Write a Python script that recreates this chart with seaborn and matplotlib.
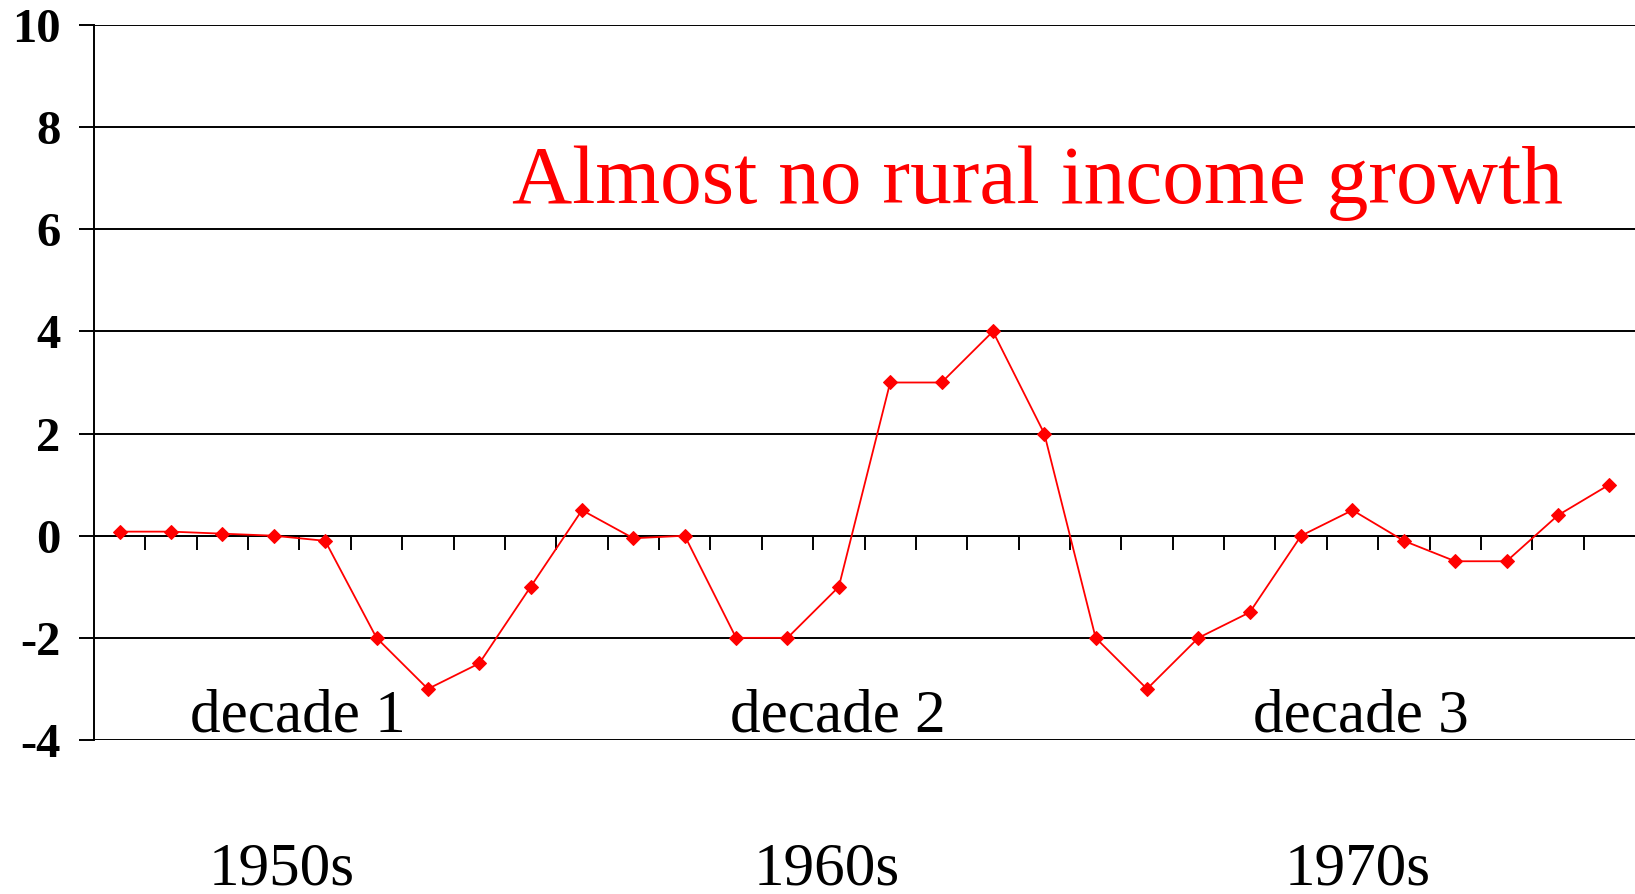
import numpy as np
import pandas as pd
import seaborn as sns
import matplotlib.pyplot as plt

# Rural income growth, one point per year (three decades)
growth = [0.08, 0.08, 0.04, 0.0, -0.1, -2.0, -3.0, -2.5, -1.0, 0.5,
          -0.05, 0.0, -2.0, -2.0, -1.0, 3.0, 3.0, 4.0, 2.0, -2.0,
          -3.0, -2.0, -1.5, 0.0, 0.5, -0.1, -0.5, -0.5, 0.4, 1.0]
years = list(range(len(growth)))
decade_labels = ["decade 1", "decade 2", "decade 3"]
era_labels = ["1950s", "1960s", "1970s"]
y_ticks = [-4, -2, 0, 2, 4, 6, 8, 10]

df = pd.DataFrame({"year": years, "growth": growth})

sns.set_style("white")
plt.rcParams["font.family"] = ["Liberation Serif", "DejaVu Serif"]
plt.rcParams["text.color"] = "black"
plt.rcParams["xtick.color"] = "black"
plt.rcParams["ytick.color"] = "black"

fig = plt.figure(figsize=(16.35, 8.94), dpi=100)
ax = fig.add_axes([94 / 1635, 1 - 740 / 894, 1 - 94 / 1635, (740 - 25) / 894])

sns.lineplot(data=df, x="year", y="growth", ax=ax, color="#ff0000",
             marker="D", markersize=7, markeredgecolor="#ff0000",
             linewidth=1.3, zorder=5)

ax.set_xlim(-0.5, len(growth) - 0.5)
ax.set_ylim(-4, 10)
ax.set_yticks(y_ticks)
ax.set_yticklabels([str(t) for t in y_ticks], fontsize=35, fontweight="bold", color="black")
for t in y_ticks:
    ax.axhline(t, color="black", linewidth=1.4, zorder=1)

# category boundary ticks on the zero line
ax.spines["bottom"].set_position(("data", 0))
ax.spines["bottom"].set_linewidth(1.4)
ax.set_xticks(np.arange(len(growth) - 1) + 0.5)
ax.set_xticklabels([])
ax.tick_params(axis="x", direction="out", length=10, width=1.4, color="black", bottom=True)
ax.tick_params(axis="y", direction="out", length=11, width=1.4, color="black", left=True, pad=13)
ax.spines["left"].set_linewidth(1.4)
ax.spines["left"].set_color("black")
ax.spines["bottom"].set_color("black")
ax.spines["top"].set_visible(False)
ax.spines["right"].set_visible(False)
ax.set_xlabel("")
ax.set_ylabel("")

ax.text(17.86, 6.51, "Almost no rural income growth", color="#ff0000",
        fontsize=60, ha="center", va="baseline")

for xc, lab in zip([3.47, 13.99, 24.17], decade_labels):
    ax.text(xc, -3.84, lab, fontsize=44, ha="center", va="baseline", color="black")
for xc, lab in zip([3.15, 13.76, 24.1], era_labels):
    ax.text(xc, -6.82, lab, fontsize=44, ha="center", va="baseline", color="black", clip_on=False)

fig.savefig("out.png", dpi=100)
